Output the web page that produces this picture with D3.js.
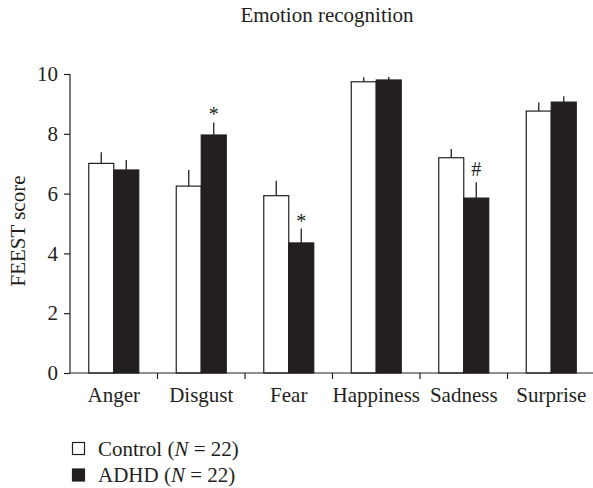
<!DOCTYPE html>
<html>
<head>
<meta charset="utf-8">
<script src="https://cdn.jsdelivr.net/npm/d3@7"></script>
<style>
  body { margin: 0; background: #fff; }
  svg text { font-family: "Liberation Serif", "DejaVu Serif", serif; fill: #231f20; }
</style>
</head>
<body>
<svg id="chart" width="593" height="488"></svg>
<script>
const categories = ["Anger", "Disgust", "Fear", "Happiness", "Sadness", "Surprise"];
const series = ["Control", "ADHD"];
const controlMean = [7.01, 6.25, 5.93, 9.74, 7.20, 8.76];
const controlErr  = [0.37, 0.54, 0.50, 0.15, 0.29, 0.29];
const adhdMean    = [6.79, 7.96, 4.35, 9.80, 5.85, 9.06];
const adhdErr     = [0.33, 0.42, 0.48, 0.10, 0.53, 0.20];
const adhdMarks   = ["", "*", "*", "", "#", ""];
const yTicks = [0, 2, 4, 6, 8, 10];

const ink = "#231f20";
const svg = d3.select("#chart");

const x0 = d3.scaleBand().domain(categories).range([70, 595]).paddingInner(0.4286).paddingOuter(0.2143);
const x1 = d3.scaleBand().domain(series).range([0, x0.bandwidth()]);
const y = d3.scaleLinear().domain([0, 10]).range([373, 74]);

const rows = [];
categories.forEach((c, i) => {
  rows.push({ cat: c, s: "Control", v: controlMean[i], e: controlErr[i], m: "" });
  rows.push({ cat: c, s: "ADHD", v: adhdMean[i], e: adhdErr[i], m: adhdMarks[i] });
});

// title
svg.append("text").attr("x", 327).attr("y", 22).attr("text-anchor", "middle")
  .style("font-size", "21px").text("Emotion recognition");

// y axis
const yAxis = svg.append("g").attr("transform", "translate(70,0)")
  .call(d3.axisLeft(y).tickValues(yTicks).tickSize(6).tickPadding(6).tickFormat(d3.format("d")));
yAxis.select(".domain").attr("d", `M0,${y(10)}V${y(0)}`);
yAxis.selectAll("line, path").attr("stroke", ink).attr("stroke-width", 1.2);
yAxis.selectAll("text").style("font-size", "21px").attr("fill", ink);

svg.append("text").attr("transform", "translate(25,231) rotate(-90)")
  .attr("text-anchor", "middle").style("font-size", "21px").text("FEEST score");

// bars
const bars = svg.append("g");
bars.selectAll("line.err").data(rows).join("line").attr("class", "err")
  .attr("x1", d => x0(d.cat) + x1(d.s) + x1.bandwidth() / 2)
  .attr("x2", d => x0(d.cat) + x1(d.s) + x1.bandwidth() / 2)
  .attr("y1", d => y(d.v)).attr("y2", d => y(d.v + d.e))
  .attr("stroke", ink).attr("stroke-width", 1.3);
bars.selectAll("rect").data(rows).join("rect")
  .attr("x", d => x0(d.cat) + x1(d.s))
  .attr("width", x1.bandwidth())
  .attr("y", d => y(d.v))
  .attr("height", d => y(0) - y(d.v))
  .attr("fill", d => d.s === "ADHD" ? ink : "#fff")
  .attr("stroke", ink).attr("stroke-width", 1.2);
bars.selectAll("text.mark").data(rows.filter(d => d.m)).join("text").attr("class", "mark")
  .attr("x", d => x0(d.cat) + x1(d.s) + x1.bandwidth() / 2)
  .attr("y", d => y(d.v + d.e) - (d.m === "*" ? 1 : 6))
  .attr("text-anchor", "middle").style("font-size", "20px").text(d => d.m);

// x axis: line with ticks between groups
const xg = svg.append("g");
xg.append("line").attr("x1", 70).attr("x2", 593).attr("y1", y(0)).attr("y2", y(0))
  .attr("stroke", ink).attr("stroke-width", 1.2);
const step = x0.step();
xg.selectAll("line.tick").data(categories.slice(1)).join("line").attr("class", "tick")
  .attr("x1", d => x0(d) - step * x0.paddingInner() / 2)
  .attr("x2", d => x0(d) - step * x0.paddingInner() / 2)
  .attr("y1", y(0)).attr("y2", y(0) + 6)
  .attr("stroke", ink).attr("stroke-width", 1.2);
xg.selectAll("text").data(categories).join("text")
  .attr("x", d => x0(d) + x0.bandwidth() / 2)
  .attr("y", 402).attr("text-anchor", "middle").style("font-size", "21px").text(d => d);

// legend
const leg = svg.append("g").attr("transform", "translate(72,442)");
series.forEach((s, i) => {
  const g = leg.append("g").attr("transform", `translate(0,${i * 26.5})`);
  g.append("rect").attr("x", 0.5).attr("y", 0.5).attr("width", 12).attr("height", 12)
    .attr("fill", s === "ADHD" ? ink : "#fff").attr("stroke", ink).attr("stroke-width", 1.2);
  const t = g.append("text").attr("x", 26).attr("y", 13.5).style("font-size", "21px");
  t.append("tspan").text(s + " (");
  t.append("tspan").style("font-style", "italic").text("N");
  t.append("tspan").text(" = 22)");
});
</script>
</body>
</html>
